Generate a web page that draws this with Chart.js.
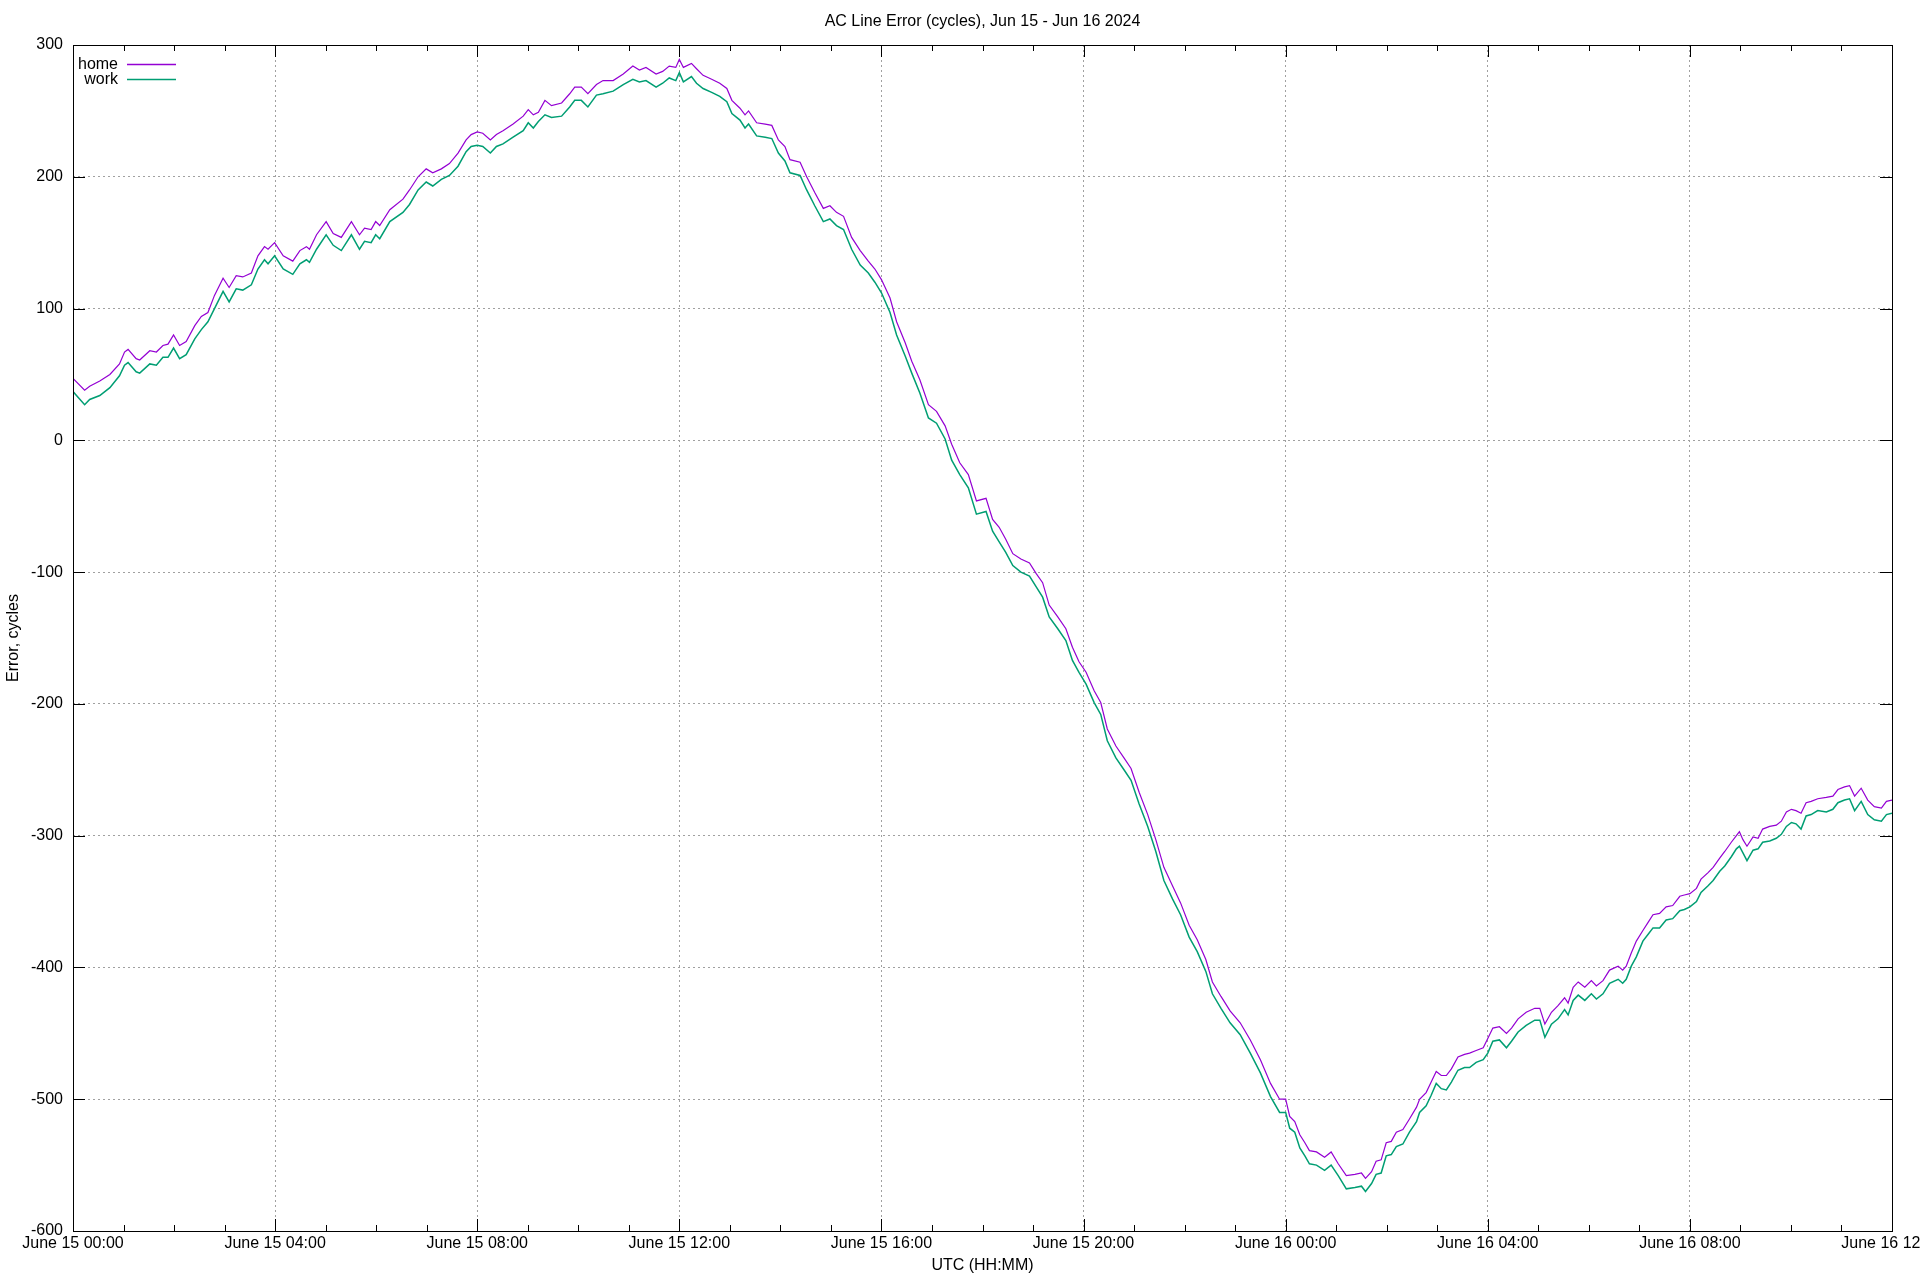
<!DOCTYPE html>
<html lang="en">
<head>
    <meta charset="UTF-8">
    <title>AC Line Error (cycles), Jun 15 - Jun 16 2024</title>
    <script src="https://cdn.jsdelivr.net/npm/chart.js@4.4.1/dist/chart.umd.min.js"></script>
    <style>
        html, body { margin: 0; padding: 0; background: #ffffff; overflow: hidden; }
        #wrap { width: 1920px; height: 1280px; }
    </style>
</head>
<body>
    <div id="wrap"><canvas id="lineErrorChart" width="1920" height="1280"></canvas></div>

    <script>
        // --- Data (hours since June 15 00:00 UTC) ---
        const hours = [
            0, 0.23, 0.33, 0.53, 0.73, 0.92, 1.02, 1.09, 1.25, 1.32, 1.52, 1.65, 1.78, 1.88, 1.99, 2.11, 2.24, 2.41, 2.54, 2.67,
            2.80, 2.97, 3.09, 3.23, 3.36, 3.53, 3.66, 3.79, 3.86, 3.99, 4.16, 4.35, 4.49, 4.62, 4.68, 4.82, 5.01, 5.15, 5.31, 5.51,
            5.67, 5.77, 5.90, 5.99, 6.07, 6.27,
            6.53, 6.66, 6.83, 6.99, 7.12, 7.29, 7.45, 7.62, 7.78, 7.88, 8.0, 8.11, 8.26, 8.38, 8.51, 8.71, 8.91, 9.01, 9.11, 9.21,
            9.34, 9.47, 9.67, 9.83, 9.93, 10.06, 10.19, 10.36, 10.49, 10.69, 10.89, 11.08, 11.21, 11.34, 11.54, 11.67, 11.80, 11.93,
            12.0, 12.08, 12.24, 12.34, 12.47, 12.64, 12.80, 12.94, 13.04, 13.20, 13.30, 13.37, 13.53, 13.70, 13.83, 13.96, 14.09, 14.19, 14.39, 14.52,
            14.68, 14.85, 14.98, 15.11, 15.25, 15.41, 15.58, 15.74, 15.87, 16.0, 16.17, 16.30, 16.47, 16.60, 16.76, 16.93, 17.09, 17.26, 17.39, 17.55,
            17.72, 17.88,
            18.07, 18.20, 18.33, 18.46, 18.60, 18.76, 18.93, 19.06, 19.19, 19.32, 19.49, 19.65, 19.78, 19.91, 20.05, 20.21, 20.34, 20.47, 20.64, 20.80,
            20.94, 21.10, 21.27, 21.43, 21.59, 21.76, 21.92, 22.09, 22.25, 22.42, 22.55, 22.72, 22.9, 23.1, 23.3, 23.5, 23.7,
            23.88, 24.0, 24.08, 24.18, 24.28, 24.38, 24.47, 24.61, 24.77, 24.90, 25.04, 25.20, 25.37, 25.50, 25.58, 25.70, 25.79, 25.89, 25.99, 26.09,
            26.19, 26.32, 26.45, 26.59, 26.65, 26.78, 26.88, 26.98, 27.08, 27.18, 27.28, 27.41, 27.54, 27.64, 27.77, 27.91, 28.0, 28.10, 28.23, 28.37,
            28.47, 28.60, 28.76, 28.93, 29.03, 29.13, 29.26, 29.39, 29.52, 29.59, 29.69, 29.79, 29.92,
            30.05, 30.15, 30.28, 30.41, 30.58, 30.67, 30.74, 30.84, 30.94, 31.07, 31.17, 31.27, 31.40, 31.53, 31.66, 31.80, 31.89, 32.0, 32.13, 32.22,
            32.36, 32.46, 32.59, 32.69, 32.82, 32.92, 32.98, 33.05, 33.13, 33.25, 33.35, 33.44, 33.58, 33.71, 33.81, 33.91, 34.01, 34.10, 34.20, 34.30,
            34.40, 34.53, 34.70, 34.83, 34.93, 35.06, 35.16, 35.26, 35.39, 35.52, 35.65, 35.79, 35.89, 36.0
        ];

        const homeErr = [
            47, 38, 41, 45, 50, 58, 67, 69, 62, 61, 68, 67, 72, 73, 80, 72, 75, 87, 94, 97,
            110, 123, 116, 125, 124, 127, 140, 147, 145, 150, 140, 136, 144, 147, 145, 156, 166, 157, 154, 166,
            156, 161, 160, 166, 163, 175,
            183, 190, 200, 206, 203, 206, 210, 218, 228, 232, 234, 233, 228, 232, 235, 240, 246, 251, 247, 249,
            258, 254, 256, 263, 268, 268, 263, 270, 273, 273, 278, 284, 281, 283, 278, 280, 284, 283,
            289, 283, 286, 282, 277, 274, 271, 267, 258, 252, 247, 250, 241, 240, 239, 228, 223, 213, 211, 200,
            188, 176, 178, 173, 170, 154, 144, 136, 130, 122, 108, 90, 74, 60, 46, 27, 22, 11, -3, -17,
            -26, -46,
            -44, -60, -66, -75, -86, -90, -93, -101, -108, -125, -134, -143, -157, -168, -176, -190, -199, -219, -232, -241,
            -249, -267, -284, -303, -324, -338, -351, -368, -379, -394, -411, -422, -433, -442, -455, -470, -488,
            -500, -500, -513, -517, -527, -533, -539, -540, -544, -540, -549, -558, -557, -556, -560, -555, -547, -546, -533, -532,
            -525, -523, -515, -506, -500, -495, -487, -479, -482, -482, -477, -468, -466, -465, -463, -461, -454, -446, -445, -450,
            -446, -439, -434, -431, -431, -443, -434, -429, -423, -427, -415, -411, -415,
            -410, -414, -410, -402, -399, -402, -399, -389, -380, -372, -366, -360, -359, -354, -353, -346, -345, -344, -340, -333,
            -328, -324, -317, -312, -305, -300, -297, -303, -308, -301, -302, -295, -293, -292, -289, -282, -280, -281, -283, -275,
            -274, -272, -271, -270, -265, -263, -262, -270, -264, -273, -278, -279, -274, -273
        ];

        const workErr = [
            37, 27, 31, 34, 40, 49, 57, 59, 52, 51, 58, 57, 63, 63, 70, 62, 65, 77, 84, 90,
            100, 113, 105, 115, 114, 118, 130, 137, 134, 140, 130, 126, 134, 137, 135, 145, 156, 148, 144, 156,
            145, 151, 150, 156, 153, 166,
            173, 179, 190, 196, 193, 198, 201, 208, 219, 223, 224, 223, 218, 223, 225, 230, 235, 241, 237, 242,
            247, 245, 246, 253, 258, 258, 253, 262, 263, 265, 270, 274, 272, 273, 268, 271, 275, 273,
            279, 272, 276, 271, 267, 264, 261, 257, 248, 243, 237, 240, 231, 230, 229, 218, 212, 203, 201, 190,
            178, 166, 168, 163, 160, 145, 133, 127, 120, 112, 97, 80, 64, 51, 36, 17, 13, 1, -15, -26,
            -36, -56,
            -54, -69, -77, -85, -95, -100, -103, -111, -119, -134, -143, -152, -167, -176, -185, -199, -208, -228, -241, -250,
            -258, -276, -293, -312, -334, -348, -360, -377, -388, -403, -420, -431, -442, -451, -465, -480, -498,
            -510, -510, -522, -525, -537, -543, -549, -550, -554, -550, -558, -568, -567, -566, -570, -564, -557, -556, -543, -542,
            -536, -534, -525, -517, -510, -505, -497, -488, -492, -493, -487, -478, -476, -476, -472, -470, -465, -456, -455, -461,
            -456, -449, -444, -440, -440, -453, -443, -439, -432, -436, -425, -421, -425,
            -420, -424, -420, -412, -409, -412, -409, -399, -392, -380, -375, -370, -370, -364, -363, -357, -356, -354, -350, -343,
            -338, -334, -327, -323, -316, -310, -308, -313, -319, -311, -310, -305, -304, -302, -299, -293, -290, -291, -295, -285,
            -284, -281, -282, -280, -275, -273, -272, -281, -274, -284, -288, -289, -284, -283
        ];

        const seriesNames = ['home', 'work'];
        const seriesColors = ['#9400d3', '#009e73'];
        const titleText = 'AC Line Error (cycles), Jun 15 - Jun 16 2024';
        const xTitle = 'UTC (HH:MM)';
        const yTitle = 'Error, cycles';

        const FONT = '"Liberation Sans", Arial, sans-serif';
        Chart.defaults.font.family = FONT;
        Chart.defaults.font.size = 16;
        Chart.defaults.color = '#000000';

        // etiqueta de hora tipo gnuplot
        function hourLabel(h) {
            const day = 15 + Math.floor(h / 24);
            const hh = String(h % 24).padStart(2, '0');
            return 'June ' + day + ' ' + hh + ':00';
        }

        // marco, ticks hacia dentro, título y leyenda al estilo gnuplot
        const gnuplotFrame = {
            id: 'gnuplotFrame',
            afterDraw(chart) {
                const ctx = chart.ctx;
                const { left, right, top, bottom } = chart.chartArea;
                const xs = chart.scales.x;
                const ys = chart.scales.y;
                const px = v => Math.round(v) + 0.5;

                ctx.save();
                ctx.strokeStyle = '#000000';
                ctx.lineWidth = 1;
                ctx.setLineDash([]);

                ctx.beginPath();
                for (let h = 1; h < 36; h++) {
                    const len = h % 4 === 0 ? 12 : 6;
                    const x = px(xs.getPixelForValue(h));
                    ctx.moveTo(x, bottom); ctx.lineTo(x, bottom - len);
                    ctx.moveTo(x, top); ctx.lineTo(x, top + len);
                }
                for (let v = -500; v < 300; v += 100) {
                    const y = px(ys.getPixelForValue(v));
                    ctx.moveTo(left, y); ctx.lineTo(left + 12, y);
                    ctx.moveTo(right, y); ctx.lineTo(right - 12, y);
                }
                ctx.stroke();

                ctx.strokeRect(px(left), px(top), Math.round(right - left), Math.round(bottom - top));

                // título centrado sobre el área del gráfico
                ctx.fillStyle = '#000000';
                ctx.font = '16px ' + FONT;
                ctx.textAlign = 'center';
                ctx.textBaseline = 'alphabetic';
                ctx.fillText(titleText, (left + right) / 2, 26);

                // leyenda arriba a la izquierda
                const rows = [69, 84];
                seriesNames.forEach((name, i) => {
                    ctx.textAlign = 'right';
                    ctx.fillStyle = '#000000';
                    ctx.fillText(name, 118, rows[i]);
                    ctx.strokeStyle = seriesColors[i];
                    ctx.lineWidth = 1.3;
                    ctx.beginPath();
                    ctx.moveTo(127, rows[i] - 4.5);
                    ctx.lineTo(176, rows[i] - 4.5);
                    ctx.stroke();
                });
                ctx.restore();
            }
        };

        const ctx = document.getElementById('lineErrorChart').getContext('2d');
        new Chart(ctx, {
            type: 'line',
            data: {
                datasets: [
                    {
                        label: seriesNames[0],
                        data: hours.map((h, i) => ({ x: h, y: homeErr[i] })),
                        borderColor: seriesColors[0],
                        borderWidth: 1.2,
                        pointRadius: 0,
                        tension: 0,
                        order: 1
                    },
                    {
                        label: seriesNames[1],
                        data: hours.map((h, i) => ({ x: h, y: workErr[i] })),
                        borderColor: seriesColors[1],
                        borderWidth: 1.5,
                        pointRadius: 0,
                        tension: 0,
                        order: 0
                    }
                ]
            },
            options: {
                responsive: false,
                animation: false,
                events: [],
                layout: { padding: { top: 45, right: 28, bottom: 0, left: 0 } },
                plugins: {
                    legend: { display: false },
                    tooltip: { enabled: false },
                    title: { display: false }
                },
                scales: {
                    x: {
                        type: 'linear',
                        min: 0,
                        max: 36,
                        ticks: {
                            stepSize: 4,
                            autoSkip: false,
                            maxRotation: 0,
                            padding: 3,
                            callback: v => hourLabel(v)
                        },
                        grid: { color: '#a0a0a0', lineWidth: 1, drawTicks: false },
                        border: { display: false, dash: [2, 3] },
                        title: { display: true, text: xTitle, padding: { top: 0, bottom: 5 } },
                        afterFit: s => { s.height = 49; s.paddingLeft = 0; s.paddingRight = 0; }
                    },
                    y: {
                        min: -600,
                        max: 300,
                        ticks: { stepSize: 100, padding: 10 },
                        grid: { color: '#a0a0a0', lineWidth: 1, drawTicks: false },
                        border: { display: false, dash: [2, 3] },
                        title: { display: true, text: yTitle, padding: { top: 4, bottom: 0 } },
                        afterFit: s => { s.width = 73; }
                    }
                }
            },
            plugins: [gnuplotFrame]
        });
    </script>
</body>
</html>
